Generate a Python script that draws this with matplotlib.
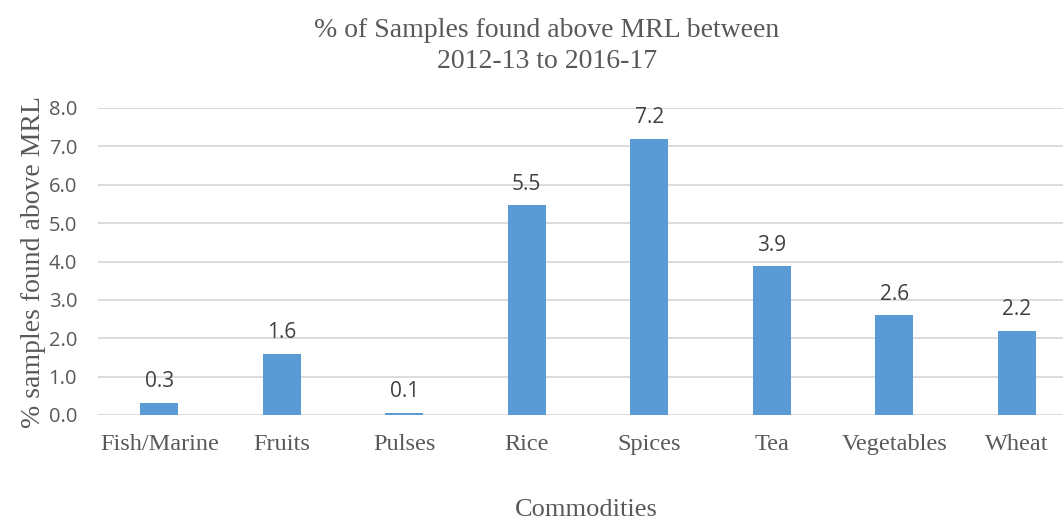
import matplotlib.pyplot as plt

# data
commodities = ["Fish/Marine", "Fruits", "Pulses", "Rice", "Spices", "Tea", "Vegetables", "Wheat"]
pct_above_mrl = [0.32, 1.6, 0.06, 5.47, 7.2, 3.87, 2.6, 2.2]
labels = ["0.3", "1.6", "0.1", "5.5", "7.2", "3.9", "2.6", "2.2"]

serif = ["Liberation Serif", "DejaVu Serif"]
sans = ["Open Sans", "DejaVu Sans"]
grey = "#595959"

fig = plt.figure(figsize=(10.63, 5.23), dpi=100)
ax = fig.add_axes([98 / 1063, 108 / 523, 980 / 1063, 307 / 523])

x = range(len(commodities))
ax.bar(x, pct_above_mrl, width=0.31, color="#5B9BD5", zorder=3)

for i, v in enumerate(pct_above_mrl):
    ax.text(i, v + 0.27, labels[i], ha="center", va="bottom",
            fontsize=15, family=sans, color="#404040")

ax.set_xlim(-0.5, 7.5)
ax.set_ylim(0, 8)
ax.set_yticks([0, 1, 2, 3, 4, 5, 6, 7, 8])
ax.set_yticklabels([f"{t:.1f}" for t in range(9)], family=sans, fontsize=14.5, color=grey)
ax.set_xticks(list(x))
ax.set_xticklabels(commodities, family=serif, fontsize=17.5, color=grey)
ax.tick_params(length=0)
ax.tick_params(axis="y", pad=15)
ax.tick_params(axis="x", pad=14)

ax.grid(axis="y", color="#D9D9D9", linewidth=1.3, zorder=0)
for s in ax.spines.values():
    s.set_visible(False)

ax.set_ylabel("% samples found above MRL", family=serif, fontsize=20, color=grey, labelpad=2)
fig.text(586 / 1063, 1 - 510 / 523, "Commodities", ha="center", va="center",
         family=serif, fontsize=19, color=grey)
fig.text(547 / 1063, 1 - 46 / 523, "% of Samples found above MRL between\n2012-13 to 2016-17",
         ha="center", va="center", family=serif, fontsize=20, color=grey, linespacing=1.3)

plt.savefig("out.png", dpi=100)
